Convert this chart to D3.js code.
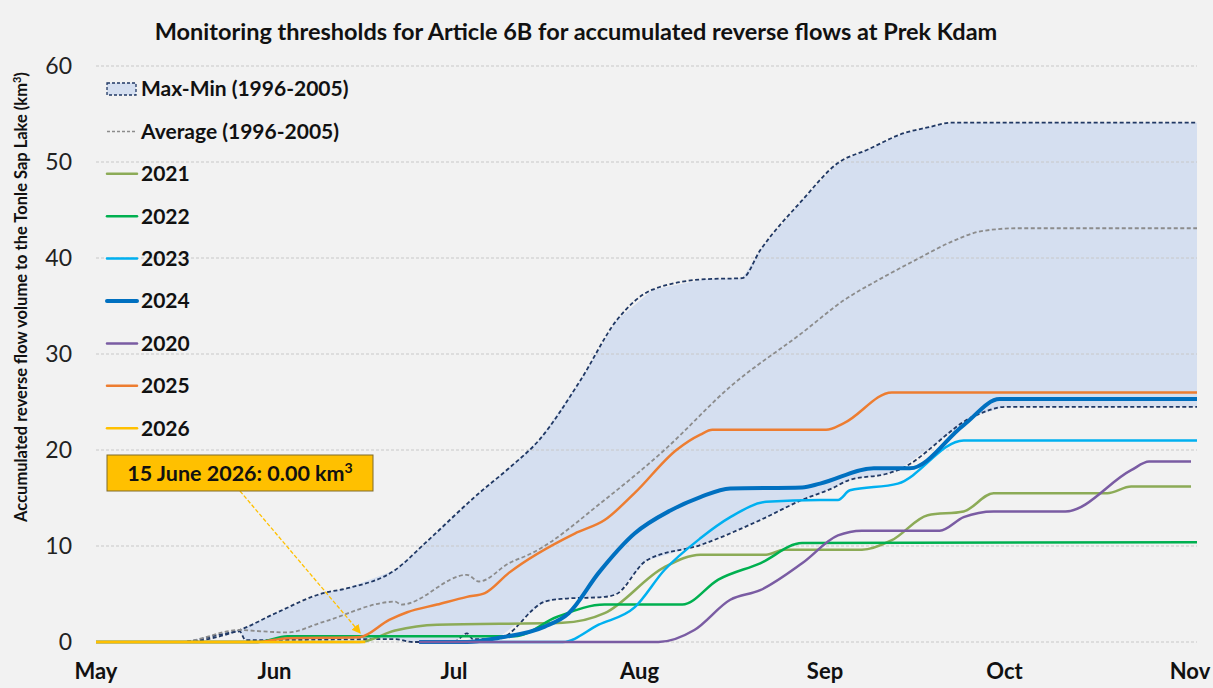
<!DOCTYPE html>
<html>
<head>
<meta charset="utf-8">
<script src="https://cdn.jsdelivr.net/npm/d3@7"></script>
<style>
  body { margin: 0; background: #f2f2f2; }
  svg { display: block; font-family: Lato, "Open Sans", sans-serif; }
</style>
</head>
<body>
<svg id="chart" width="1213" height="688"></svg>
<script>
// month ticks on the x axis
var monthTicks = ["05-01", "06-01", "07-01", "08-01", "09-01", "10-01", "11-01"];
var yTicks = [0, 10, 20, 30, 40, 50, 60];

// observed band 1996-2005 (max / min) and average, [mm-dd, km3]
var maxSeries = [["05-01",0],["05-15",0],["05-25",1.25],["05-31",3.0],["06-08",5.1],["06-12",5.6],["06-20",7.5],
  ["06-25",10.3],["07-04",15.5],["07-09",18.1],["07-14",21.0],["07-21",27.3],["07-27",33.5],["08-02",36.7],
  ["08-11",37.8],["08-17",37.9],["08-20",40.8],["08-27",46.0],["09-02",49.9],["09-07",51.3],["09-13",53.0],
  ["09-17",53.6],["09-21",54.1],["11-01",54.1]];
var minSeries = [["05-01",0],["05-15",0],["05-22",0.8],["05-25",1.1],["05-26",0.2],["06-20",0.3],["06-23",0],
  ["06-30",0.1],["07-02",0.9],["07-03",0.3],["07-07",0.3],["07-15",4.2],["07-18",4.5],["07-25",4.7],["07-27",5.0],
  ["08-01",8.5],["08-10",10.1],["08-20",12.7],["08-27",14.8],["09-01",16.0],["09-04",16.9],["09-10",17.5],
  ["09-12",17.9],["09-25",23.6],["09-30",24.5],["11-01",24.5]];
var avgSeries = [["05-01",0],["05-15",0],["05-25",1.25],["05-29",1.1],["06-02",1.0],["06-08",2.1],["06-20",4.2],
  ["06-21",3.9],["07-02",7.0],["07-04",6.3],["07-09",8.2],["07-13",9.3],["07-25",14.8],["08-04",20.0],
  ["08-15",26.6],["08-27",32.2],["09-03",35.6],["09-09",37.8],["09-15",39.8],["09-21",41.7],["09-26",42.8],
  ["10-02",43.1],["11-01",43.1]];

// yearly accumulated reverse flow, [mm-dd, km3]
var s2021 = [["05-01",0],["06-14",0],["06-20",1.2],["06-27",1.8],["07-18",2.0],["07-25",3.0],["08-04",7.8],
  ["08-10",9.1],["08-21",9.1],["08-24",9.6],["09-06",9.6],["09-11",10.6],["09-17",13.2],["09-23",13.6],
  ["09-28",15.5],["10-17",15.5],["10-21",16.2],["10-31",16.2]];
var s2022 = [["05-01",0],["05-28",0],["06-02",0.6],["07-10",0.6],["07-17",2.6],["07-25",3.9],["08-07",3.9],
  ["08-13",6.5],["08-20",8.2],["08-27",10.3],["11-01",10.4]];
var s2023 = [["06-24",0],["07-18",0],["07-24",1.8],["07-30",3.6],["08-04",7.5],["08-10",10.8],["08-15",13.0],
  ["08-21",14.6],["08-30",14.8],["09-02",14.8],["09-04",15.8],["09-12",16.5],["09-23",21.0],["11-01",21.0]];
var s2024 = [["06-24",0],["07-02",0],["07-07",0.4],["07-15",1.6],["07-19",3.0],["07-24",7.2],["07-30",11.3],
  ["08-05",13.7],["08-10",15.1],["08-15",16.0],["08-27",16.1],["08-30",16.5],["09-08",18.1],["09-14",18.1],
  ["09-23",22.6],["09-29",25.3],["11-01",25.3]];
var s2020 = [["06-24",0],["08-03",0],["08-09",1.25],["08-15",4.4],["08-20",5.4],["08-27",8.2],["09-02",11.1],
  ["09-06",11.6],["09-19",11.6],["09-23",13.0],["09-28",13.6],["10-10",13.6],["10-21",17.9],["10-24",18.8],
  ["10-31",18.8]];
var s2025 = [["05-01",0],["05-28",0],["06-02",0.4],["06-14",0.5],["06-19",2.3],["06-22",3.1],["06-27",3.9],
  ["07-02",4.7],["07-05",5.1],["07-09",7.2],["07-20",11.3],["07-25",12.7],["07-30",15.5],["08-06",20.0],
  ["08-10",21.6],["08-12",22.1],["08-31",22.1],["09-03",22.8],["09-11",26.0],["11-01",26.0]];
var s2026 = [["05-01",0],["06-15",0]];

var series = [
  {name: "2021", data: s2021, color: "#8cab57", width: 2.5},
  {name: "2022", data: s2022, color: "#00b050", width: 2.5},
  {name: "2023", data: s2023, color: "#00b0f0", width: 2.5},
  {name: "2024", data: s2024, color: "#0070c0", width: 4},
  {name: "2020", data: s2020, color: "#7a5ca3", width: 2.5},
  {name: "2025", data: s2025, color: "#ed7d31", width: 2.5},
  {name: "2026", data: s2026, color: "#ffc000", width: 2.5}
];

var parse = function(s){ return d3.timeParse("%Y-%m-%d")("2026-" + s); };

var svg = d3.select("#chart");
var x = d3.scaleTime().domain([parse("05-01"), parse("11-01")]).range([96, 1197]);
var y = d3.scaleLinear().domain([0, 60]).range([642, 66]);

svg.append("rect").attr("width", 1213).attr("height", 688).attr("fill", "#f2f2f2");

// title
svg.append("text").attr("x", 576).attr("y", 40).attr("text-anchor", "middle")
  .style("font-size", "23.5px").style("font-weight", "bold").attr("fill", "#111")
  .text("Monitoring thresholds for Article 6B for accumulated reverse flows at Prek Kdam");

// y axis title
var yt = svg.append("text").attr("transform", "translate(27,297) rotate(-90)")
  .attr("text-anchor", "middle").style("font-size", "16.5px").style("font-weight", "bold").attr("fill", "#111");
yt.append("tspan").text("Accumulated reverse flow volume to the Tonle Sap Lake  (km");
yt.append("tspan").attr("dy", -6).style("font-size", "11px").text("3");
yt.append("tspan").attr("dy", 6).text(")");

// band max-min
var lin = d3.line().x(function(d){ return x(parse(d[0])); }).y(function(d){ return y(d[1]); });
var poly = maxSeries.concat(minSeries.slice().reverse());
svg.append("path").attr("d", lin(poly) + "Z").attr("fill", "#d5dff0");

// gridlines
svg.append("g").selectAll("line").data(yTicks).enter().append("line")
  .attr("x1", 96).attr("x2", 1197)
  .attr("y1", function(d){ return y(d); }).attr("y2", function(d){ return y(d); })
  .attr("stroke", "#c8c8c8").attr("stroke-width", 1).attr("stroke-dasharray", "3,2");

// y tick labels
svg.append("g").selectAll("text").data(yTicks).enter().append("text")
  .attr("x", 72).attr("y", function(d){ return y(d); }).attr("dy", "0.35em")
  .attr("text-anchor", "end").style("font-size", "23px").attr("fill", "#222")
  .text(function(d){ return d; });

// x tick labels
svg.append("g").selectAll("text").data(monthTicks).enter().append("text")
  .attr("x", function(d, i){ return x(parse(d)) + (i == 0 ? 0 : -7); })
  .attr("y", 679).attr("text-anchor", "middle")
  .style("font-size", "22px").style("font-weight", "bold").attr("fill", "#111")
  .text(function(d){ return d3.timeFormat("%b")(parse(d)); });

var smooth = d3.line().curve(d3.curveMonotoneX)
  .x(function(d){ return x(parse(d[0])); }).y(function(d){ return y(d[1]); });

// max, min, average
svg.append("path").attr("d", smooth(maxSeries)).attr("fill", "none")
  .attr("stroke", "#203864").attr("stroke-width", 1.8).attr("stroke-dasharray", "4,2.5");
svg.append("path").attr("d", smooth(minSeries)).attr("fill", "none")
  .attr("stroke", "#203864").attr("stroke-width", 1.8).attr("stroke-dasharray", "4,2.5");
svg.append("path").attr("d", smooth(avgSeries)).attr("fill", "none")
  .attr("stroke", "#8c8c8c").attr("stroke-width", 1.8).attr("stroke-dasharray", "4,2.5");

// years
svg.append("g").selectAll("path").data(series).enter().append("path")
  .attr("d", function(d){ return smooth(d.data); })
  .attr("fill", "none")
  .attr("stroke", function(d){ return d.color; })
  .attr("stroke-width", function(d){ return d.width; })
  .attr("stroke-linejoin", "round");

// legend
var legendItems = [{name: "Max-Min (1996-2005)", type: "band"}, {name: "Average (1996-2005)", type: "avg"}]
  .concat(series.map(function(s){ return {name: s.name, type: "line", color: s.color, width: s.width}; }));
var lg = svg.append("g").selectAll("g").data(legendItems).enter().append("g")
  .attr("transform", function(d, i){ return "translate(107," + (89 + i * 42.4) + ")"; });
lg.each(function(d){
  var g = d3.select(this);
  if (d.type == "band") {
    g.append("rect").attr("x", 0).attr("y", -6).attr("width", 29).attr("height", 12)
      .attr("fill", "#d5dff0").attr("stroke", "#203864").attr("stroke-width", 1.3).attr("stroke-dasharray", "3,2");
  } else if (d.type == "avg") {
    g.append("line").attr("x1", 0).attr("x2", 30).attr("stroke", "#8c8c8c")
      .attr("stroke-width", 1.5).attr("stroke-dasharray", "3,2");
  } else {
    g.append("line").attr("x1", 0).attr("x2", 30).attr("stroke", d.color).attr("stroke-width", d.width)
      .attr("stroke-linecap", "round");
  }
  g.append("text").attr("x", 34).attr("dy", "0.35em").style("font-size", "21px")
    .style("font-weight", "bold").attr("fill", "#111").text(d.name);
});

// annotation
var last = s2026[s2026.length - 1];
var ax = x(parse(last[0])), ay = y(last[1]);
svg.append("defs").append("marker").attr("id", "arr").attr("viewBox", "0 0 10 10")
  .attr("refX", 9).attr("refY", 5).attr("markerWidth", 7).attr("markerHeight", 7).attr("orient", "auto")
  .append("path").attr("d", "M0,0L10,5L0,10Z").attr("fill", "#ffc000");
svg.append("line").attr("x1", 240).attr("y1", 491).attr("x2", ax - 5).attr("y2", ay - 9)
  .attr("stroke", "#ffc000").attr("stroke-width", 1.3).attr("stroke-dasharray", "4,2")
  .attr("marker-end", "url(#arr)");
svg.append("rect").attr("x", 107).attr("y", 455).attr("width", 266).attr("height", 36)
  .attr("fill", "#ffc000").attr("stroke", "#7f6a2a").attr("stroke-width", 1);
var at = svg.append("text").attr("x", 240).attr("y", 481).attr("text-anchor", "middle")
  .style("font-size", "21.5px").style("font-weight", "bold").attr("fill", "#111");
at.append("tspan").text("15 June 2026: " + d3.format(".2f")(last[1]) + " km");
at.append("tspan").attr("dy", -8).style("font-size", "14px").text("3");
</script>
</body>
</html>
